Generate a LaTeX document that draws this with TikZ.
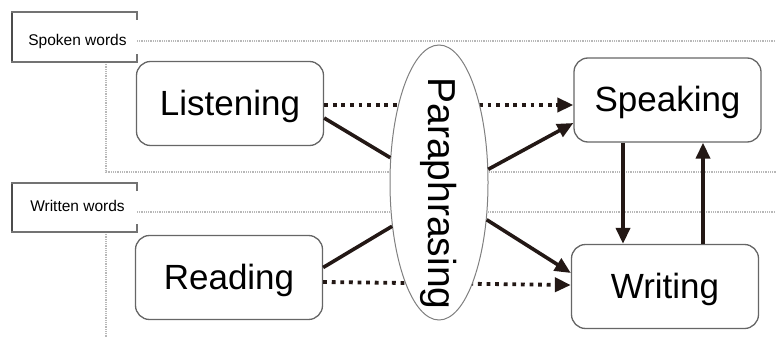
\documentclass[tikz,border=0pt]{standalone}
\usepackage{fontspec}
\usepackage{graphicx}
\setmainfont{Liberation Sans}
\usetikzlibrary{arrows.meta,shapes.geometric}
\definecolor{ink}{HTML}{231815}
\begin{document}
\begin{tikzpicture}[x=1pt,y=-1pt,
  box/.style={draw=black!60, line width=1.3pt, rounded corners=14pt, fill=white,
    minimum width=187pt, minimum height=84pt, inner sep=0pt,
    font=\fontsize{35}{40}\selectfont, text height=26pt, text depth=3pt},
  guide/.style={draw=black!28, line width=1.6pt, dash pattern=on 1pt off 0.8pt},
  solidarr/.style={draw=ink, line width=3.6pt},
  dotarr/.style={draw=ink, line width=3.8pt, dash pattern=on 3.8pt off 4.8pt},
  tip/.style={-{Triangle[length=16pt,width=14pt]}},
  tag/.style={font=\fontsize{15.5}{18}\selectfont, inner sep=0pt, anchor=base},
  bracket/.style={draw=black!55, line width=1.2pt}
]
\useasboundingbox (0,0) rectangle (776,337);

% guide lines
\draw[guide] (137,41) -- (776,41);
\draw[guide] (106,62) -- (106,172) -- (776,172);
\draw[guide] (137,212) -- (776,212);
\draw[guide] (106,232) -- (106,337);

% label brackets
\draw[bracket] (137,20) -- (137,12) -- (12,12) -- (12,62) -- (137,62) -- (137,54);
\draw[draw=black!70, line width=2pt] (12,13) -- (12,61);
\node[tag] (spoken) at (77.5,46) {Spoken words};
\draw[bracket] (137,191) -- (137,183) -- (12,183) -- (12,232) -- (137,232) -- (137,224);
\draw[draw=black!70, line width=2pt] (12,184) -- (12,231);
\node[tag] (written) at (77.5,211.5) {Written words};

% boxes
\node[box] (listen) at (230,103.5) {Listening};
\node[box] (speak) at (667.5,100) {Speaking};
\node[box] (read) at (229,277.5) {Reading};
\node[box] (write) at (665,286.5) {Writing};

% dotted connectors (pass behind the paraphrasing ellipse)
\draw[dotarr, tip] ([yshift=-1.5pt]listen.east) -- ([yshift=-1.5pt]listen.east -| speak.west);
\draw[dotarr, tip] ([yshift=-4.5pt]read.east) -- ([yshift=1.5pt]write.west);

% paraphrasing ellipse
\node[ellipse, draw=black!50, line width=1pt, fill=white, inner sep=0pt,
  minimum width=98pt, minimum height=275pt,
  font=\fontsize{39}{44}\selectfont] (para) at (439,182.5)
  {\rotatebox{-90}{\makebox[0pt]{\hspace*{22pt}Paraphrasing}}};

% solid connectors
\draw[solidarr] ([yshift=-14.5pt]listen.east) -- (para.153);
\draw[solidarr, tip] (para.15) -- ([yshift=-23pt]speak.west);
\draw[solidarr] ([yshift=10pt]read.east) -- (para.223);
\draw[solidarr, tip] (para.-38) -- ([yshift=13.5pt]write.west);
\draw[solidarr, tip] ([xshift=-44.5pt]speak.south) -- ([xshift=-44.5pt]speak.south |- write.north);
\draw[solidarr, tip] ([xshift=38pt]write.north) -- ([xshift=38pt]write.north |- speak.south);
\end{tikzpicture}
\end{document}
